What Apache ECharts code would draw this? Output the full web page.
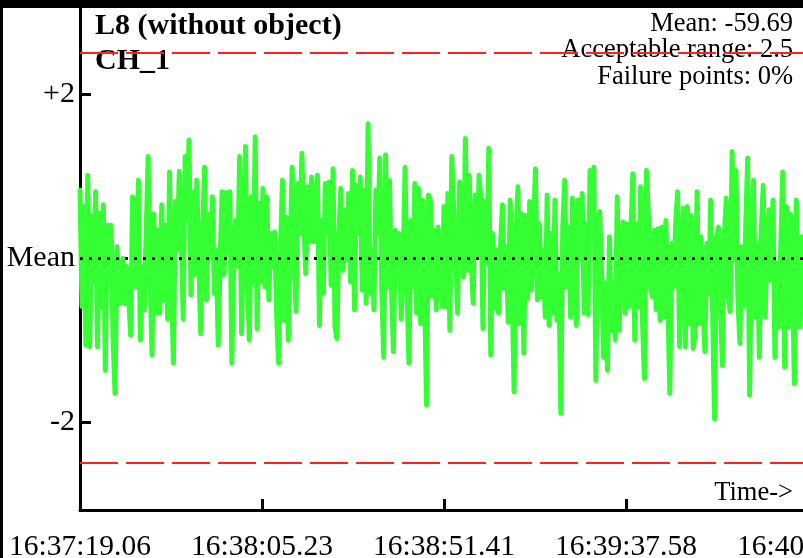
<!DOCTYPE html>
<html>
<head>
<meta charset="utf-8">
<script src="https://cdn.jsdelivr.net/npm/echarts@6.0.0/dist/echarts.min.js"></script>
<style>
html, body { margin: 0; padding: 0; background: #fff; }
#chart { width: 803px; height: 558px; }
</style>
</head>
<body>
<div id="chart"></div>
<script>
// time axis tick labels
var tickLabels = ['16:37:19.06', '16:38:05.23', '16:38:51.41', '16:39:37.58', '16:40:23.75'];

// deviation from mean in four stretches
var seg1 = [0.83,-0.59,0.63,-1.06,1.01,-1.08,0.52,-0.30,0.81,-1.08,
    0.55,-0.60,0.65,-1.37,0.40,-0.20,0.40,-1.00,-1.65,0.14,
    -0.30,-0.55,0.00,-0.55,-0.10,-0.45,-0.94,0.75,0.71,-0.35,
    0.95,-1.00,-0.10,-0.63,0.30,1.24,-0.20,-1.18,0.54,-0.67,
    0.34,-0.67,0.65,-0.51,0.40,-0.74,1.05,-0.30,-1.28,0.69,
    0.10,1.06,0.30,-0.74,1.24,0.50,1.44,-0.45,0.81,-0.20,
    0.95,0.00,-0.92,0.30,1.11,-0.51,0.54,0.00,0.75,-0.43,
    0.10,-1.06,0.00,0.81,-0.20,0.80,0.10,0.81,-1.28,0.00,
    0.46,-0.10,1.24,-0.92,0.20,1.36,-0.20,-1.00,0.75,-0.30,
    1.48];
var seg2 = [-0.86,0.67,-0.29,0.85,-0.35,0.75,-0.51,0.30,-0.10,0.32,
    -0.67,-1.28,0.10,0.95,-0.76,0.50,-1.00,0.20,1.11,0.00,
    -0.65,0.91,0.30,1.28,0.38,-0.19,0.87,0.20,0.99,0.20,
    0.60,1.01,-0.82,0.46,-0.43,0.91,0.30,0.93,-0.33,1.09,
    -0.84,-0.98,0.30,0.85,-0.15,0.59,-0.02,0.79,-0.29,1.07,
    -0.63,0.89,0.30,0.99,-0.39,0.83,-0.55,1.64,-0.43,0.10,
    -0.63,0.83,0.30,1.22,-0.35,-1.21,1.26,-0.35,0.95,-0.35,
    -1.14,0.34,-0.23,0.30,-0.74,-0.10,1.11,-0.39,-1.28,0.46,
    -0.35,0.91,-0.67,0.85,-0.80,0.71,-0.35,-1.79,0.77,0.71,
    -0.47,0.34,-0.63,0.38,-0.27,-0.59,0.63];
var seg3 = [-0.59,0.79,-0.88,1.24,0.59,0.02,-0.67,0.93,0.35,-0.23,
    1.46,-0.15,1.01,-0.06,-0.55,0.77,0.02,1.01,0.71,-0.86,
    0.69,-0.06,1.34,-1.18,0.30,-0.61,0.10,-0.67,0.14,0.65,
    -0.37,0.14,-0.78,0.71,-0.31,-1.63,0.30,0.87,-0.80,0.54,
    -1.16,0.52,-0.49,0.69,-0.39,0.38,1.09,-0.51,0.42,-0.47,
    0.10,-0.72,0.77,-0.82,0.30,-0.67,0.71,-0.76,-0.20,-1.89,
    0.38,0.95,-0.35,0.38,-0.72,0.73,-0.43,-0.82,0.71,-0.02,
    0.79,-0.67,0.42,-0.69,1.07,0.40,1.11,-1.49,0.38,0.57,
    -0.19,-1.21,-0.30,-1.37,0.26,-0.88,-0.30,-1.00,0.75,-0.88,
    0.30,0.44];
var seg4 = [-0.67,0.42,-0.59,0.30,1.03,-1.00,0.42,-0.59,0.87,-0.80,
    -1.47,1.07,0.54,-0.35,-0.47,0.34,-0.63,0.36,-0.76,0.38,
    -0.72,0.46,-0.51,-1.65,0.18,-0.35,0.42,0.81,-1.08,0.14,
    0.61,-1.08,0.63,-0.80,0.52,-1.10,-0.92,0.81,-0.80,0.26,
    -0.51,-1.14,0.18,-0.43,0.71,-0.67,-1.96,0.26,0.38,-0.51,
    -1.31,0.26,0.73,-0.47,-0.65,1.30,-0.02,1.07,-0.51,-1.04,
    0.14,-0.59,0.38,1.22,-1.67,0.22,0.95,-0.72,0.18,-1.21,
    0.34,0.89,-0.72,0.14,0.59,-0.27,0.71,-1.21,-0.06,-0.84,
    0.14,1.05,-1.33,0.63,-0.84,0.54,-0.23,-1.53,0.71,-0.35,
    -0.84,0.26,0.28,-0.55,0.63];

var yTicks = [-2, 0, 2];
var yTickLabels = ['-2', 'Mean', '+2'];
var meanValue = 0;
var rangeLimit = 2.5;

var values = seg1.concat(seg2, seg3, seg4);
var lastIndex = values.length - 1;
var step = lastIndex / (tickLabels.length - 1);
var serif = '"Liberation Serif", "DejaVu Serif", serif';

var myChart = echarts.init(document.getElementById('chart'));
myChart.setOption({
    animation: false,
    backgroundColor: '#fff',
    grid: {
        left: 80,
        right: -5,
        top: 8,
        bottom: 48,
        outerBoundsMode: 'none'
    },
    xAxis: {
        type: 'value',
        min: 0,
        max: lastIndex,
        interval: step,
        axisLine: { onZero: false, lineStyle: { color: '#000', width: 3 } },
        axisTick: { inside: true, length: 11, lineStyle: { color: '#000', width: 3 } },
        axisLabel: {
            color: '#000',
            fontFamily: serif,
            fontSize: 29.5,
            margin: 22,
            formatter: function (v) {
                return tickLabels[Math.round(v / step)];
            }
        },
        splitLine: { show: false }
    },
    yAxis: {
        type: 'value',
        min: -3.07,
        max: 3.05,
        axisLine: { show: true, onZero: false, lineStyle: { color: '#000', width: 3 } },
        axisTick: {
            show: true, inside: true, length: 11,
            customValues: yTicks,
            lineStyle: { color: '#000', width: 3 }
        },
        axisLabel: {
            color: '#000',
            fontFamily: serif,
            fontSize: 30,
            margin: 5,
            padding: [4, 0, 0, 0],
            customValues: yTicks,
            formatter: function (v) {
                return yTickLabels[yTicks.indexOf(Math.round(v))];
            }
        },
        splitLine: { show: false }
    },
    series: [
        {
            // mean line
            type: 'line',
            data: [],
            z: 1,
            markLine: {
                silent: true,
                symbol: ['none', 'none'],
                label: { show: false },
                lineStyle: { color: '#000', width: 3, type: [3, 6] },
                data: [{ yAxis: meanValue }]
            }
        },
        {
            type: 'line',
            data: values.map(function (v, i) { return [i, v]; }),
            showSymbol: false,
            z: 3,
            lineStyle: { color: '#33ff33', width: 5, cap: 'round', join: 'round' }
        },
        {
            // acceptable range
            type: 'line',
            data: [],
            z: 5,
            markLine: {
                silent: true,
                symbol: ['none', 'none'],
                label: { show: false },
                lineStyle: { color: '#ff2020', width: 2, type: [38, 8] },
                data: [{ yAxis: rangeLimit }, { yAxis: -rangeLimit }]
            }
        }
    ],
    graphic: [
        { type: 'rect', shape: { x: 0, y: 0, width: 803, height: 8 }, style: { fill: '#000' }, z: 10 },
        { type: 'rect', shape: { x: 0, y: 0, width: 3, height: 558 }, style: { fill: '#000' }, z: 10 },
        { type: 'text', x: 95, y: 26, z: 4, style: { text: 'L8 (without object)', font: 'bold 30px ' + serif, fill: '#000', verticalAlign: 'middle' } },
        { type: 'text', x: 95, y: 61, z: 4, style: { text: 'CH_1', font: 'bold 30px ' + serif, fill: '#000', verticalAlign: 'middle' } },
        { type: 'text', x: 793, y: 24, z: 4, style: { text: 'Mean: -59.69', font: '26.5px ' + serif, fill: '#000', align: 'right', verticalAlign: 'middle' } },
        { type: 'text', x: 793, y: 50, z: 4, style: { text: 'Acceptable range: 2.5', font: '26.5px ' + serif, fill: '#000', align: 'right', verticalAlign: 'middle' } },
        { type: 'text', x: 793, y: 77, z: 4, style: { text: 'Failure points: 0%', font: '26.5px ' + serif, fill: '#000', align: 'right', verticalAlign: 'middle' } },
        { type: 'text', x: 793, y: 493, z: 4, style: { text: 'Time->', font: '26.5px ' + serif, fill: '#000', align: 'right', verticalAlign: 'middle' } }
    ]
});
</script>
</body>
</html>
